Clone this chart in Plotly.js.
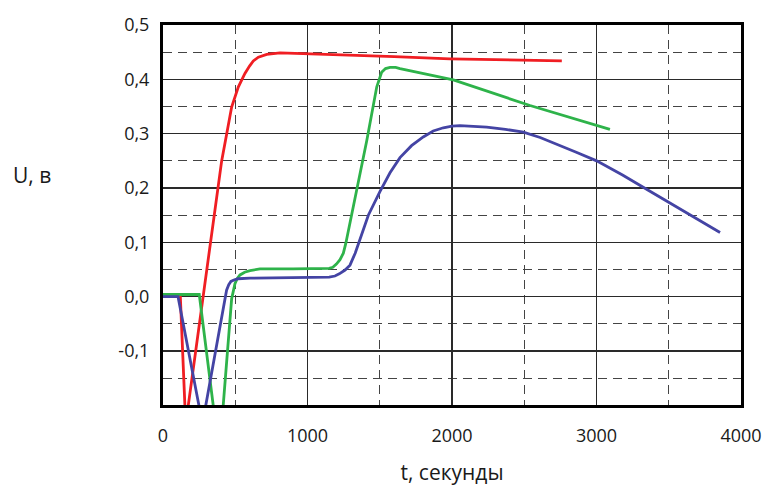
<!DOCTYPE html>
<html>
<head>
<meta charset="utf-8">
<script src="https://cdn.plot.ly/plotly-3.0.1.min.js"></script>
<style>html,body{margin:0;padding:0;background:#fff;}#chart{width:767px;height:490px;}</style>
</head>
<body>
<div id="chart"></div>
<script>
// Time, seconds / voltage, V
var tRed   = [0, 120, 157, 175, 250, 302, 337, 372, 406, 441, 475, 521, 567, 600, 625, 660, 718, 810, 948, 1200, 1600, 1986, 2400, 2760];
var uRed   = [0, 0, -0.235, -0.2, -0.06, 0.045, 0.107, 0.181, 0.25, 0.30, 0.349, 0.386, 0.411, 0.425, 0.434, 0.441, 0.446, 0.449, 0.448, 0.446, 0.442, 0.438, 0.436, 0.434];

var tGreen = [0, 251, 390, 417, 450, 475, 498, 515, 533, 565, 602, 671, 900, 1150, 1175, 1200, 1225, 1248, 1265, 1282, 1340, 1410, 1479, 1500, 1513, 1540, 1571, 1610, 1640, 2009, 2540, 3093];
var uGreen = [0.004, 0.004, -0.29, -0.2, -0.088, -0.004, 0.024, 0.034, 0.04, 0.045, 0.048, 0.051, 0.051, 0.052, 0.054, 0.06, 0.068, 0.08, 0.098, 0.12, 0.194, 0.287, 0.386, 0.405, 0.413, 0.42, 0.422, 0.422, 0.42, 0.399, 0.352, 0.308];

var tBlue  = [0, 104, 273, 296, 350, 400, 440, 455, 470, 495, 520, 602, 800, 1000, 1150, 1190, 1220, 1260, 1294, 1330, 1363, 1421, 1502, 1571, 1640, 1720, 1801, 1870, 1940, 2000, 2055, 2150, 2240, 2370, 2494, 2610, 2725, 2860, 3001, 3180, 3370, 3509, 3680, 3855];
var uBlue  = [0, 0, -0.234, -0.2, -0.12, -0.047, 0.012, 0.022, 0.028, 0.031, 0.033, 0.034, 0.035, 0.035, 0.036, 0.038, 0.042, 0.049, 0.058, 0.08, 0.107, 0.15, 0.194, 0.228, 0.256, 0.278, 0.294, 0.305, 0.311, 0.314, 0.315, 0.314, 0.312, 0.308, 0.303, 0.293, 0.281, 0.266, 0.25, 0.224, 0.194, 0.172, 0.145, 0.118];

var yTicks = [-0.1, 0, 0.1, 0.2, 0.3, 0.4, 0.5];
var yTickText = ['-0,1', '0,0', '0,1', '0,2', '0,3', '0,4', '0,5'];
var xTicks = [0, 1000, 2000, 3000, 4000];
var xTickText = ['0', '1000', '2000', '3000', '4000'];

var fontFam = "'Open Sans', 'DejaVu Sans', sans-serif";

function curve(x, y, color) {
  return {x: x, y: y, mode: 'lines', line: {color: color, width: 2.8, shape: 'linear'}};
}

var traces = [
  curve(tRed, uRed, '#f01e23'),
  curve(tGreen, uGreen, '#2eb34a'),
  curve(tBlue, uBlue, '#4444a4')
];

var layout = {
  width: 767, height: 490,
  margin: {l: 163, r: 26, t: 25, b: 85},
  paper_bgcolor: '#ffffff', plot_bgcolor: '#ffffff',
  showlegend: false,
  font: {family: fontFam, color: '#1a1a1a', size: 18},
  xaxis: {
    range: [0, 4000],
    tickmode: 'array', tickvals: xTicks, ticktext: xTickText,
    showgrid: true, gridcolor: '#2a2a2a', gridwidth: 1.2,
    minor: {dtick: 500, showgrid: true, gridcolor: '#444444', griddash: '9px,6px', gridwidth: 1.2},
    showline: true, linecolor: '#000000', linewidth: 3, mirror: true,
    zeroline: false, ticks: '',
    ticklabelstandoff: 12,
    tickfont: {family: fontFam, size: 18, color: '#1a1a1a'},
    title: {text: 't, секунды', font: {family: fontFam, size: 21, color: '#1a1a1a'}, standoff: 20}
  },
  yaxis: {
    range: [-0.1995, 0.5002],
    tickmode: 'array', tickvals: yTicks, ticktext: yTickText,
    showgrid: true, gridcolor: '#2a2a2a', gridwidth: 1.2,
    minor: {dtick: 0.05, tick0: 0, showgrid: true, gridcolor: '#444444', griddash: '9px,6px', gridwidth: 1.2},
    showline: true, linecolor: '#000000', linewidth: 3, mirror: true,
    zeroline: false, ticks: '',
    ticklabelstandoff: 7,
    tickfont: {family: fontFam, size: 18, color: '#1a1a1a'}
  },
  annotations: [
    {text: 'U, в', xref: 'paper', yref: 'paper', x: -0.227, y: 0.605, xanchor: 'center', yanchor: 'middle',
     showarrow: false, font: {family: fontFam, size: 21, color: '#1a1a1a'}}
  ]
};

Plotly.newPlot('chart', traces, layout, {displayModeBar: false, staticPlot: true});
</script>
</body>
</html>
